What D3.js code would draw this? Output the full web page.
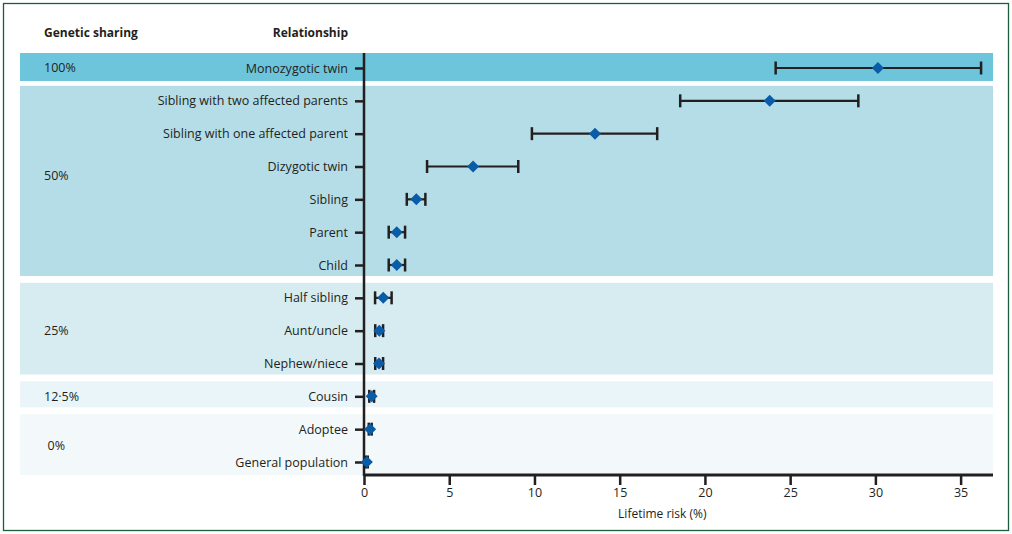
<!DOCTYPE html>
<html>
<head>
<meta charset="utf-8">
<script src="https://cdn.jsdelivr.net/npm/d3@7"></script>
<style>
  html, body { margin: 0; padding: 0; background: #fff; }
  svg { display: block; font-family: "Open Sans", "Noto Sans", sans-serif; }
</style>
</head>
<body>
<svg id="chart" width="1012" height="534"></svg>
<script>
// ---- data ----
const categories = [
  "Monozygotic twin", "Sibling with two affected parents", "Sibling with one affected parent",
  "Dizygotic twin", "Sibling", "Parent", "Child", "Half sibling", "Aunt/uncle",
  "Nephew/niece", "Cousin", "Adoptee", "General population"
];
const riskEstimate = [30.15, 23.8, 13.55, 6.4, 3.07, 1.92, 1.92, 1.13, 0.9, 0.88, 0.45, 0.36, 0.17];
const riskLower    = [24.15, 18.55, 9.85, 3.7, 2.51, 1.45, 1.45, 0.65, 0.66, 0.66, 0.31, 0.28, 0.1];
const riskUpper    = [36.2, 29.0, 17.2, 9.05, 3.6, 2.41, 2.41, 1.62, 1.12, 1.12, 0.59, 0.45, 0.22];
const groupLabels  = ["100%", "50%", "25%", "12\u00b75%", "0%"];
const groupFirst   = ["Monozygotic twin", "Sibling with two affected parents", "Half sibling", "Cousin", "Adoptee"];
const groupLast    = ["Monozygotic twin", "Child", "Nephew/niece", "Cousin", "General population"];
const groupColors  = ["#6dc5dc", "#b5dde7", "#d7ecf1", "#e9f5f9", "#f3f9fb"];
const xTicks       = [0, 5, 10, 15, 20, 25, 30, 35];
const xTitle       = "Lifetime risk (%)";
const headerLeft   = "Genetic sharing";
const headerRight  = "Relationship";

// ---- layout ----
const svg = d3.select("#chart");
const x0 = 364, xMaxPx = 993, axisY = 475;
const x = d3.scaleLinear().domain([0, 36.9]).range([x0, xMaxPx]);
const y = d3.scalePoint().domain(categories).range([68, 462]);
const bandLeft = 20;
const ink = "#231f20";

// outer frame
svg.append("rect").attr("x", 3.5).attr("y", 3.5).attr("width", 1005).attr("height", 527)
  .attr("fill", "none").attr("stroke", "#1e5e3e").attr("stroke-width", 1.3);

// bands
const bands = groupLabels.map((g, i) => ({
  label: g, color: groupColors[i],
  top: y(groupFirst[i]) - 15,
  bottom: i === groupLabels.length - 1 ? axisY : y(groupLast[i]) + (i === 0 ? 13 : 11)
}));
svg.append("g").selectAll("rect").data(bands).join("rect")
  .attr("x", bandLeft).attr("y", d => d.top)
  .attr("width", xMaxPx - bandLeft).attr("height", d => d.bottom - d.top)
  .attr("fill", d => d.color);

// group labels
const groupLabelY = [y(categories[0]), (y("Dizygotic twin") * 0.73 + y("Sibling") * 0.27),
  y("Aunt/uncle"), y("Cousin"), (y("Adoptee") + y("General population")) / 2];
const groupLabelX = [44, 44, 44, 44, 47.5];
svg.append("g").selectAll("text").data(groupLabels).join("text")
  .attr("x", (d, i) => groupLabelX[i]).attr("y", (d, i) => groupLabelY[i])
  .attr("dy", "0.35em").attr("font-size", 12.5).attr("fill", ink).text(d => d);

// headers
svg.append("text").attr("x", 44).attr("y", 33).attr("dy", "0.35em")
  .attr("font-size", 12).attr("font-weight", "bold").attr("fill", ink).text(headerLeft);
svg.append("text").attr("x", 348).attr("y", 33).attr("dy", "0.35em").attr("text-anchor", "end")
  .attr("font-size", 12).attr("font-weight", "bold").attr("fill", ink).text(headerRight);

// y axis (category)
const yAxis = d3.axisLeft(y).tickSize(9).tickPadding(7);
const gy = svg.append("g").attr("transform", `translate(${x0},0)`).call(yAxis);
gy.select(".domain").remove();
gy.selectAll(".tick line").attr("stroke", ink).attr("stroke-width", 2.5);
gy.selectAll(".tick text").attr("font-size", 12.5).attr("fill", ink)
  .attr("font-family", "\"Open Sans\", sans-serif");
svg.append("line").attr("x1", x0).attr("x2", x0).attr("y1", 53).attr("y2", axisY + 1)
  .attr("stroke", ink).attr("stroke-width", 2.5);

// x axis
const xAxis = d3.axisBottom(x).tickValues(xTicks).tickSize(10).tickPadding(3).tickFormat(d3.format("d"));
const gx = svg.append("g").attr("transform", `translate(0,${axisY})`).call(xAxis);
gx.select(".domain").attr("stroke", ink).attr("stroke-width", 3)
  .attr("d", `M${x0},0H${xMaxPx}`);
gx.selectAll(".tick line").attr("stroke", ink).attr("stroke-width", 2.5);
gx.selectAll(".tick text").attr("font-size", 12.5).attr("fill", ink)
  .attr("font-family", "\"Open Sans\", sans-serif");
svg.append("text").attr("x", x(17.5)).attr("y", 514).attr("dy", "0.35em").attr("text-anchor", "middle")
  .attr("font-size", 12).attr("fill", ink).text(xTitle);

// error bars
const rows = categories.map((c, i) => ({ c, v: riskEstimate[i], lo: riskLower[i], hi: riskUpper[i] }));
const eb = svg.append("g");
eb.selectAll("line.ci").data(rows).join("line").attr("class", "ci")
  .attr("x1", d => x(d.lo)).attr("x2", d => x(d.hi))
  .attr("y1", d => y(d.c)).attr("y2", d => y(d.c))
  .attr("stroke", ink).attr("stroke-width", 2.2);
["lo", "hi"].forEach(k => {
  eb.selectAll("line.cap-" + k).data(rows).join("line").attr("class", "cap-" + k)
    .attr("x1", d => x(d[k])).attr("x2", d => x(d[k]))
    .attr("y1", d => y(d.c) - 6.5).attr("y2", d => y(d.c) + 6.5)
    .attr("stroke", ink).attr("stroke-width", 2.5);
});

// diamonds
const diamond = d3.symbol().type(d3.symbolSquare).size(72);
svg.append("g").selectAll("path").data(rows).join("path")
  .attr("d", diamond)
  .attr("transform", d => `translate(${x(d.v)},${y(d.c)}) rotate(45)`)
  .attr("fill", "#0a5ca6");
</script>
</body>
</html>
